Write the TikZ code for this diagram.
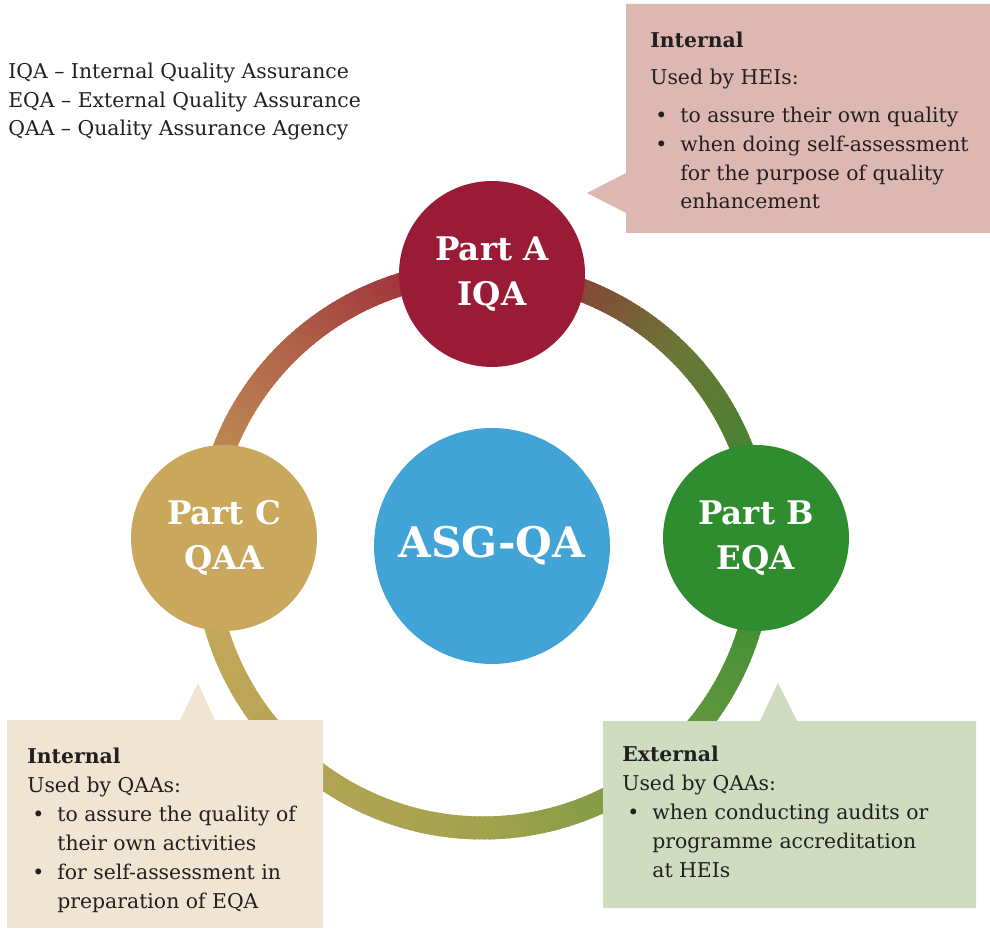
\documentclass[tikz,border=0pt]{standalone}
\usepackage{fontspec}
\setmainfont{DejaVu Serif}
\usepackage{xcolor}

\definecolor{partA}{HTML}{9A1B35}
\definecolor{partB}{HTML}{2F8C2F}
\definecolor{partC}{HTML}{C9A75D}
\definecolor{asgblue}{HTML}{42A3D6}
\definecolor{ringO}{HTML}{6B7736}
\definecolor{ringR}{HTML}{B1664A}
\definecolor{ringY}{HTML}{A3A24D}
\definecolor{noteA}{HTML}{DDB8B2}
\definecolor{noteB}{HTML}{CFDCC0}
\definecolor{noteC}{HTML}{F0E5D3}
\definecolor{ink}{HTML}{231F20}

\newcommand\bul{\makebox[0.6cm][l]{\hspace{0.1cm}\textbullet}}
\newcommand\cont{\hspace*{0.6cm}}

\begin{document}
\begin{tikzpicture}[x=0.02cm,y=0.02cm,
  part/.style={circle,fill=#1,minimum size=3.72cm,inner sep=0pt,text=white,align=center,font=\bfseries\fontsize{18.5}{26}\selectfont},
  note/.style={anchor=base west,inner sep=0pt,align=left,text=ink,font=\fontsize{11.6}{16.44}\selectfont},
  seg/.style={line width=0.46cm}]

\useasboundingbox (0,0) rectangle (990,937);

% ring with colour running round it
\coordinate (hub) at (483,387);
\foreach \from/\len/\ca/\cb in {0/45/partB/ringO, 45/45/ringO/partA, 90/45/partA/ringR, 135/45/ringR/partC, 180/90/partC/ringY, 270/90/ringY/partB}{
  \pgfmathtruncatemacro\last{\len-1}
  \foreach \i in {0,...,\last}{
    \pgfmathtruncatemacro\mixp{100*\i/\len}
    \pgfmathsetmacro\ang{\from+\i}
    \pgfmathsetmacro\angend{\from+\i+1.6}
    \colorlet{segc}{\cb!\mixp!\ca}
    \draw[segc,seg] (hub) ++(\ang:278) arc[start angle=\ang, end angle=\angend, radius=278];
  }
}

% parts
\node[part=partA] (A) at (492,663) {Part A\\IQA};
\node[part=partB] (B) at (756,399) {Part B\\EQA};
\node[part=partC] (C) at (224,399) {Part C\\QAA};
\node[circle,fill=asgblue,minimum size=4.72cm,inner sep=0pt,text=white,font=\bfseries\fontsize{24}{28}\selectfont] (asg) at (492,391) {ASG-QA};

% callouts
\fill[noteA] (626,933) -- (990,933) -- (990,704) -- (626,704) -- (626,724) -- (587,744) -- (626,764) -- cycle;
\fill[noteC] (7,9) -- (7,217) -- (180,217) -- (198,254) -- (215,217) -- (323,217) -- (323,9) -- cycle;
\fill[noteB] (603,29) -- (603,216) -- (760,216) -- (778,254) -- (797,216) -- (976,216) -- (976,29) -- cycle;

% texts (base = last line)
\node[note] (legend) at (8,801) {IQA – Internal Quality Assurance\\
  EQA – External Quality Assurance\\
  QAA – Quality Assurance Agency};

\node[note] (txtA) at (650,728) {\textbf{Internal}\\[5pt]
  Used by HEIs:\\[5pt]
  \bul to assure their own quality\\
  \bul when doing self-assessment\\
  \cont for the purpose of quality\\
  \cont enhancement};

\node[note] (txtC) at (27,29) {\textbf{Internal}\\
  Used by QAAs:\\
  \bul to assure the quality of\\
  \cont their own activities\\
  \bul for self-assessment in\\
  \cont preparation of EQA};

\node[note] (txtB) at (622,60) {\textbf{External}\\
  Used by QAAs:\\
  \bul when conducting audits or\\
  \cont programme accreditation\\
  \cont at HEIs};
\end{tikzpicture}
\end{document}
